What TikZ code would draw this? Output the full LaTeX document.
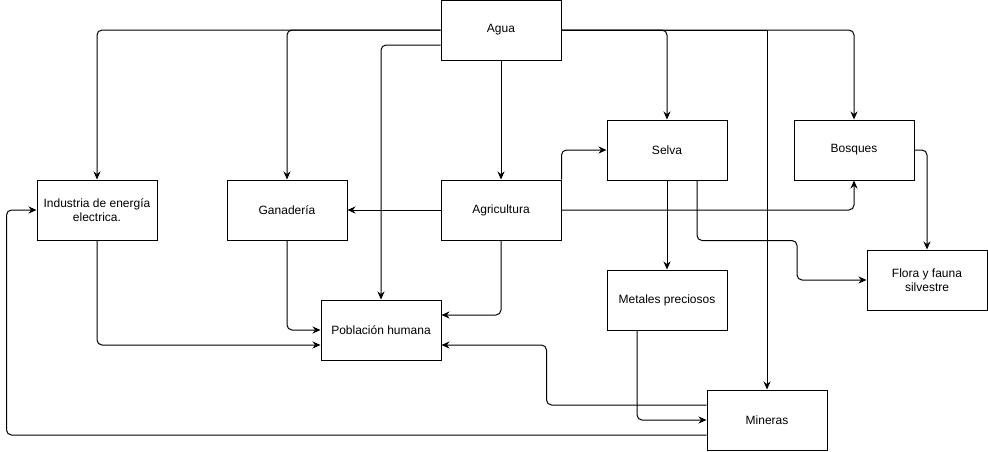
\documentclass[tikz,border=0pt]{standalone}
\usepackage{fontspec}
\setmainfont{Liberation Sans}
\usetikzlibrary{arrows.meta,calc}
\tikzset{
  box/.style={draw, line width=1pt, minimum width=120pt, minimum height=60pt, align=center, inner sep=2pt, font=\fontsize{12}{14}\selectfont},
  arr/.style={line width=1pt, rounded corners=5pt, -{Stealth[length=8pt,width=7pt]}}
}
\begin{document}
\begin{tikzpicture}[x=1pt,y=-1pt]
\useasboundingbox (0,0) rectangle (988,451);
\node[box] (agua) at (501,30) {Agua};
\node[box] (ind) at (97,210) {Industria de energía\\electrica.};
\node[box] (gan) at (287,210) {Ganadería};
\node[box] (agr) at (501,210) {Agricultura};
\node[box] (selva) at (667,150) {Selva};
\node[box] (bos) at (854,150) {Bosques};
\node[box] (pob) at (381,330) {Población humana};
\node[box] (met) at (667,300) {Metales preciosos};
\node[box] (flora) at (927,280) {Flora y fauna\\silvestre};
\node[box] (min) at (767,420) {Mineras};

\draw[arr] (agua.west) -| (ind.north);
\draw[arr] (agua.west) -| (gan.north);
\draw[arr] ($(agua.west)+(0,15)$) -| (pob.north);
\draw[arr] (agua.south) -- (agr.north);
\draw[arr] (agua.east) -| (selva.north);
\draw[arr] (agua.east) -| (bos.north);
\draw[arr, rounded corners=0pt] (agua.east) -| (min.north);
\draw[arr] (agr.west) -- (gan.east);
\draw[arr] (agr.north east) |- (selva.west);
\draw[arr] (agr.east) -| (bos.south);
\draw[arr] (agr.south) |- ($(pob.east)+(0,-15)$);
\draw[arr] (gan.south) |- (pob.west);
\draw[arr] (ind.south) |- ($(pob.west)+(0,15)$);
\draw[arr] (selva.south) -- (met.north);
\draw[arr] ($(selva.south)+(30,0)$) -- ++(0,60) -- ++(100,0) |- (flora.west);
\draw[arr] (bos.east) -| (flora.north);
\draw[arr] ($(met.south)+(-30,0)$) |- (min.west);
\draw[arr] ($(min.west)+(0,-15)$) -- ++(-160,0) |- ($(pob.east)+(0,15)$);
\draw[arr] ($(min.west)+(0,15)$) -- ++(-700,0) |- (ind.west);
\end{tikzpicture}
\end{document}
